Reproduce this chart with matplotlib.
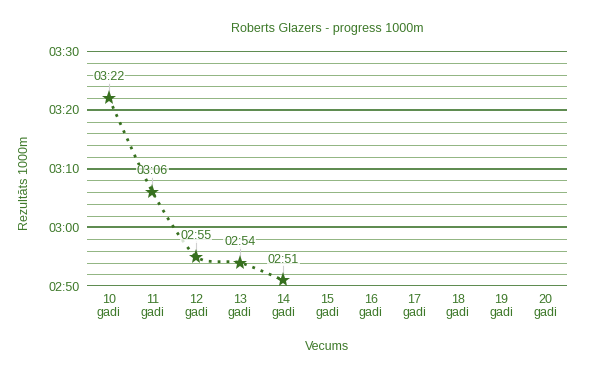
import matplotlib.pyplot as plt
from matplotlib.path import Path
from matplotlib.patches import PathPatch

plt.rcParams['font.family'] = ['Liberation Sans', 'DejaVu Sans']

ages = ['10', '11', '12', '13', '14', '15', '16', '17', '18', '19', '20']
times_sec = [202, 186, 175, 174, 171]   # 03:22, 03:06, 02:55, 02:54, 02:51
y_major = [170, 180, 190, 200, 210]

text_c = '#3f7a2b'
line_c = '#37701f'
major_c = '#2f6a1c'
minor_c = '#93b684'


def mmss(v):
    v = int(round(v))
    return f'{v // 60:02d}:{v % 60:02d}'


fig = plt.figure(figsize=(6, 3.71), dpi=100)
ax = fig.add_axes([0.145, 0.229, 0.80, 0.6335])

# grid lines: majors every 10 s, four minors between
for lo in y_major[:-1]:
    for k in range(1, 5):
        ax.axhline(lo + 2 * k, color=minor_c, lw=0.72, zorder=1)
for v in y_major:
    ax.axhline(v, color=major_c, lw=1.1, zorder=1)

# smooth dotted line through the points
x = list(range(len(times_sec)))
pts = list(zip(x, times_sec))
verts = [pts[0]]
codes = [Path.MOVETO]
s = 0.12
for i in range(len(pts) - 1):
    p0 = pts[max(i - 1, 0)]
    p1 = pts[i]
    p2 = pts[i + 1]
    p3 = pts[min(i + 2, len(pts) - 1)]
    c1 = (p1[0] + (p2[0] - p0[0]) * s, p1[1] + (p2[1] - p0[1]) * s)
    c2 = (p2[0] - (p3[0] - p1[0]) * s, p2[1] - (p3[1] - p1[1]) * s)
    verts += [c1, c2, p2]
    codes += [Path.CURVE4] * 3
ax.add_patch(PathPatch(Path(verts, codes), fill=False, ec=line_c, lw=2,
                       linestyle=(0, (1, 2.2)), zorder=3))
ax.plot(x, times_sec, linestyle='none', color=line_c,
        marker='*', markersize=11, markeredgewidth=0, zorder=4)

for xi, v in zip(x, times_sec):
    ax.plot([xi, xi], [v + 0.6, v + 2.6], color='#d0d0d0', lw=0.8, zorder=3)
    ax.text(xi, v + 3.5, mmss(v), ha='center', va='center', fontsize=9,
            color=text_c, zorder=5,
            bbox=dict(boxstyle='square,pad=0.05', fc='white', ec='none', alpha=0.8))

ax.set_xlim(-0.5, len(ages) - 0.5)
ax.set_ylim(170, 210)
ax.set_xticks(range(len(ages)))
ax.set_xticklabels([f'{a}\ngadi' for a in ages], fontsize=9, color=text_c,
                   linespacing=1.1)
ax.set_yticks(y_major)
ax.set_yticklabels([mmss(v) for v in y_major])
ax.tick_params(axis='y', labelsize=9, labelcolor=text_c, length=0, pad=5)
ax.tick_params(axis='x', length=0, pad=6)
for s_ in ax.spines.values():
    s_.set_visible(False)

ax.set_title('Roberts Glazers - progress 1000m', fontsize=9, color=text_c, pad=14)
fig.text(25 / 600, 1 - 183 / 371, 'Rezultāts 1000m', rotation=90, fontsize=9,
         color=text_c, ha='center', va='center')
ax.set_xlabel('Vecums', fontsize=9, color=text_c, labelpad=16)

fig.savefig('out.png', dpi=100)
